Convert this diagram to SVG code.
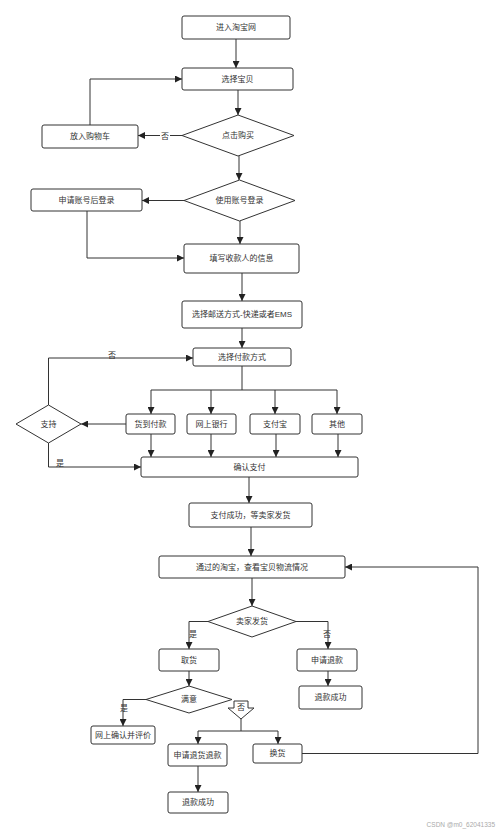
<svg xmlns="http://www.w3.org/2000/svg" width="500" height="830" viewBox="0 0 500 830">
<defs>
<style>
.b{fill:#fff;stroke:#333;stroke-width:1}
.t{font-family:"Liberation Sans","Noto Sans CJK SC",sans-serif;font-size:8px;fill:#333;text-anchor:middle;dominant-baseline:central}
.c{fill:none;stroke:#333;stroke-width:1}
.a{marker-end:url(#ah)}
.lb{fill:#fff}
.wm{font-family:"Liberation Sans","Noto Sans CJK SC",sans-serif;font-size:6.5px;fill:#aaa;text-anchor:end}
</style>
<marker id="ah" viewBox="0 0 10 10" refX="10" refY="5" markerWidth="7" markerHeight="7" markerUnits="userSpaceOnUse" orient="auto">
<path d="M0,0 L10,5 L0,10 Z" fill="#222"/>
</marker>
</defs>
<rect width="500" height="830" fill="#fff"/>
<g id="connectors">
<path class="c a" d="M236,39 V68"/>
<path class="c a" d="M238,90 V115"/>
<path class="c a" d="M182,135.5 H138"/>
<path class="c a" d="M90,125 V79 H182"/>
<path class="c a" d="M239,156 V180"/>
<path class="c a" d="M184,200.5 H142"/>
<path class="c a" d="M87,211 V258 H184"/>
<path class="c a" d="M240,221 V244"/>
<path class="c a" d="M242,273 V301"/>
<path class="c a" d="M242,328 V348"/>
<path class="c" d="M242,366 V390 M151,390 H337"/>
<path class="c a" d="M151,390 V414"/>
<path class="c a" d="M211,390 V414"/>
<path class="c a" d="M275,390 V414"/>
<path class="c a" d="M337,390 V414"/>
<path class="c a" d="M126,424 H81"/>
<path class="c a" d="M48.5,405 V358 H193"/>
<path class="c a" d="M48.5,443 V467 H141"/>
<path class="c a" d="M151,434 V457"/>
<path class="c a" d="M211,434 V457"/>
<path class="c a" d="M276,434 V457"/>
<path class="c a" d="M338,434 V457"/>
<path class="c a" d="M249,477 V503"/>
<path class="c a" d="M251,527 V556"/>
<path class="c a" d="M252,578 V606"/>
<path class="c a" d="M208,621.5 H189 V649"/>
<path class="c a" d="M296,621.5 H328 V649"/>
<path class="c a" d="M328,671 V686"/>
<path class="c a" d="M189,671 V686"/>
<path class="c a" d="M146,699.5 H123 V726"/>
<path class="c" d="M241,719 V731 M198,731 H278"/>
<path class="c a" d="M198,731 V744"/>
<path class="c a" d="M278,731 V744"/>
<path class="c a" d="M302,753.5 H478 V567 H345"/>
<path class="c a" d="M198,766 V792"/>
<rect class="lb" x="160" y="131" width="10" height="10"/>
<text class="t" x="165" y="136">否</text>
<text class="t" x="112" y="355">否</text>
<text class="t" x="60" y="463">是</text>
<text class="t" x="193" y="634">是</text>
<text class="t" x="327" y="634">否</text>
<text class="t" x="124" y="708">是</text>
</g>
<g id="n1"><rect class="b" x="182" y="16" width="108" height="23" rx="2"/><text class="t" x="236" y="27.5">进入淘宝网</text></g>
<g id="n2"><rect class="b" x="182" y="68" width="111" height="22" rx="2"/><text class="t" x="237.5" y="79">选择宝贝</text></g>
<g id="n3"><polygon class="b" points="182,135.5 238,115 294,135.5 238,156"/><text class="t" x="238" y="135.5">点击购买</text></g>
<g id="n4"><rect class="b" x="42" y="125" width="96" height="23" rx="2"/><text class="t" x="90" y="136.5">放入购物车</text></g>
<g id="n5"><polygon class="b" points="184,200.5 239.5,180 295,200.5 239.5,221"/><text class="t" x="239.5" y="200.5">使用账号登录</text></g>
<g id="n6"><rect class="b" x="31" y="189" width="111" height="22" rx="2"/><text class="t" x="86.5" y="200">申请账号后登录</text></g>
<g id="n7"><rect class="b" x="184" y="244" width="115" height="29" rx="2"/><text class="t" x="241.5" y="258.5">填写收款人的信息</text></g>
<g id="n8"><rect class="b" x="182" y="301" width="120" height="27" rx="2"/><text class="t" x="242" y="314.5">选择邮送方式-快递或者EMS</text></g>
<g id="n9"><rect class="b" x="193" y="348" width="98" height="18" rx="2"/><text class="t" x="242" y="357">选择付款方式</text></g>
<g id="n10"><rect class="b" x="126" y="414" width="49" height="20" rx="2"/><text class="t" x="150.5" y="424">货到付款</text></g>
<g id="n11"><rect class="b" x="187" y="414" width="49" height="20" rx="2"/><text class="t" x="211.5" y="424">网上银行</text></g>
<g id="n12"><rect class="b" x="250" y="414" width="50" height="20" rx="2"/><text class="t" x="275" y="424">支付宝</text></g>
<g id="n13"><rect class="b" x="312" y="414" width="50" height="20" rx="2"/><text class="t" x="337" y="424">其他</text></g>
<g id="n14"><polygon class="b" points="16,424 48.5,405 81,424 48.5,443"/><text class="t" x="48.5" y="424">支持</text></g>
<g id="n15"><rect class="b" x="141" y="457" width="217" height="20" rx="2"/><text class="t" x="249.5" y="467">确认支付</text></g>
<g id="n16"><rect class="b" x="189" y="503" width="123" height="24" rx="2"/><text class="t" x="250.5" y="515">支付成功，等卖家发货</text></g>
<g id="n17"><rect class="b" x="159" y="556" width="186" height="22" rx="2"/><text class="t" x="252" y="567">通过的淘宝，查看宝贝物流情况</text></g>
<g id="n18"><polygon class="b" points="208,621.5 252,606 296,621.5 252,637"/><text class="t" x="252" y="621.5">卖家发货</text></g>
<g id="n19"><rect class="b" x="159" y="649" width="60" height="22" rx="2"/><text class="t" x="189" y="660">取货</text></g>
<g id="n20"><rect class="b" x="297" y="649" width="60" height="22" rx="2"/><text class="t" x="327" y="660">申请退款</text></g>
<g id="n21"><rect class="b" x="299" y="686" width="63" height="23" rx="2"/><text class="t" x="330.5" y="697.5">退款成功</text></g>
<g id="n22"><polygon class="b" points="146,699.5 189,686 232,699.5 189,713"/><text class="t" x="189" y="699.5">满意</text></g>
<g id="n23"><rect class="b" x="91" y="726" width="64" height="18" rx="2"/><text class="t" x="123" y="735">网上确认并评价</text></g>
<g id="n24"><polygon class="b" points="234,701 248,701 248,708 254,708 241,719 228,708 234,708"/><text class="t" x="241" y="707">否</text></g>
<g id="n25"><rect class="b" x="168" y="744" width="59" height="22" rx="2"/><text class="t" x="197.5" y="755">申请退货退款</text></g>
<g id="n26"><rect class="b" x="253" y="744" width="49" height="19" rx="2"/><text class="t" x="277.5" y="753.5">换货</text></g>
<g id="n27"><rect class="b" x="168" y="792" width="60" height="21" rx="2"/><text class="t" x="198" y="802.5">退款成功</text></g>
<text class="wm" x="495" y="827">CSDN @m0_62041335</text>
</svg>
